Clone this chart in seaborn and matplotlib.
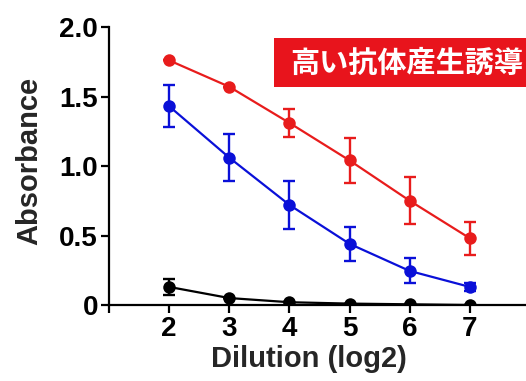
import matplotlib
matplotlib.use("Agg")
import matplotlib.pyplot as plt
import seaborn as sns
import pandas as pd
from matplotlib.patches import Rectangle

# Data
dilution = [2, 3, 4, 5, 6, 7]
red_mean = [1.76, 1.57, 1.31, 1.04, 0.75, 0.48]
red_err = [0.00, 0.00, 0.10, 0.16, 0.17, 0.12]
blue_mean = [1.43, 1.06, 0.72, 0.44, 0.245, 0.13]
blue_err = [0.15, 0.17, 0.17, 0.12, 0.09, 0.03]
black_mean = [0.13, 0.05, 0.02, 0.01, 0.005, 0.0]
black_err = [0.06, 0.0, 0.0, 0.0, 0.0, 0.0]

series_names = ["red", "blue", "black"]
series_colors = {"red": "#e81c1c", "blue": "#0a10d8", "black": "#000000"}

xtick_values = [1, 2, 3, 4, 5, 6, 7]
xtick_labels = ["", "2", "3", "4", "5", "6", "7"]
ytick_values = [0, 0.5, 1.0, 1.5, 2.0]
ytick_labels = ["0", "0.5", "1.0", "1.5", "2.0"]
title_text = "高い抗体産生誘導"

means = {"red": red_mean, "blue": blue_mean, "black": black_mean}
errs = {"red": red_err, "blue": blue_err, "black": black_err}

df = pd.concat([
    pd.DataFrame({"Dilution": dilution, "Absorbance": means[s], "err": errs[s], "series": s})
    for s in series_names
])

sns.set_style("ticks")
plt.rcParams['font.family'] = ['Liberation Sans', 'DejaVu Sans']
plt.rcParams['font.weight'] = 'bold'

fig = plt.figure(figsize=(5.26, 3.81), dpi=100)
ax = fig.add_axes([109 / 526, 76 / 381, 421 / 526, 278 / 381])

for s in series_names:
    d = df[df.series == s]
    ax.errorbar(d["Dilution"], d["Absorbance"], yerr=d["err"], fmt="none",
                ecolor=series_colors[s], elinewidth=1.7, capsize=4, capthick=1.7, zorder=2)

sns.lineplot(data=df, x="Dilution", y="Absorbance", hue="series", palette=series_colors,
             hue_order=series_names, marker="o", markersize=9, markeredgewidth=0,
             linewidth=1.6, legend=False, ax=ax, zorder=3)

ax.set_xlim(1, 8)
ax.set_ylim(0, 2.0)
ax.set_xticks(xtick_values)
ax.set_xticklabels(xtick_labels)
ax.set_yticks(ytick_values)
ax.set_yticklabels(ytick_labels)
for sp in ["top", "right"]:
    ax.spines[sp].set_visible(False)
for sp in ["left", "bottom"]:
    ax.spines[sp].set_linewidth(1.6)
    ax.spines[sp].set_color("black")
ax.tick_params(axis="both", length=6, width=1.6, labelsize=20, pad=2, colors="black")
for lab in ax.get_xticklabels() + ax.get_yticklabels():
    lab.set_fontweight("bold")

ax.set_xlabel("Dilution (log2)", fontsize=21, fontweight="bold")
ax.set_ylabel("Absorbance", fontsize=21, fontweight="bold")
ax.xaxis.set_label_coords(0.475, -0.145)
ax.yaxis.set_label_coords(-0.155, 0.52)

fig.patches.append(Rectangle((274 / 526, 294 / 381), 0.6, 49 / 381,
                             transform=fig.transFigure, facecolor="#e8141c",
                             edgecolor="none", zorder=5))
fig.text(290 / 526, 318 / 381, title_text, color="white", fontsize=21, fontweight="bold",
         va="center", ha="left", family=["Noto Sans CJK JP", "DejaVu Sans"], zorder=6)

fig.savefig("out.png", dpi=100)
